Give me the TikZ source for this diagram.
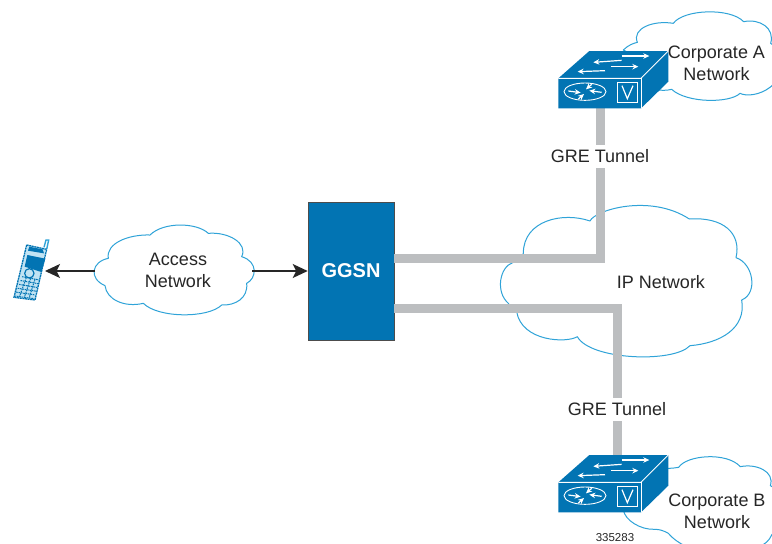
\documentclass[tikz,border=0pt]{standalone}
\usepackage{fontspec}
\setmainfont{Liberation Sans}
\usetikzlibrary{arrows.meta}
\definecolor{ciscoblue}{HTML}{0274B3}
\definecolor{cloudblue}{HTML}{2FA3D8}
\definecolor{tunnelgray}{HTML}{BCBEC0}
\definecolor{inkgray}{HTML}{262626}
\tikzset{
  x=1pt,y=-1pt,
  cloudline/.style={draw=cloudblue,line width=1pt,fill=white,line join=round},
  tunnel/.style={draw=tunnelgray,line width=9pt,line join=miter},
  tunnellabel/.style={fill=white,text=inkgray,font=\fontsize{18}{22}\selectfont,inner xsep=2pt,inner ysep=0pt,minimum height=23pt},
  cloudtext/.style={text=inkgray,font=\fontsize{18}{22}\selectfont,align=center,inner sep=0pt},
  dataarrow/.style={draw=inkgray,line width=1.4pt,-{Stealth[length=15pt,width=14pt,inset=3.5pt]}},
  ggsnbox/.style={fill=ciscoblue,draw=black!70,line width=0.6pt,text=white,font=\fontsize{20}{24}\selectfont\bfseries,minimum width=86pt,minimum height=138pt,inner sep=0pt},
  swline/.style={draw=white,line width=0.9pt},
  swarrow/.style={draw=white,line width=1.2pt,-{Stealth[length=6pt,width=5.5pt]}},
  swicon/.pic={
    \fill[ciscoblue] (25,100) -- (118,18) -- (355,18) -- (355,110) -- (273,190) -- (25,190) -- cycle;
    \draw[swline] (25,100) -- (273,100) -- (355,18);
    \draw[swline] (273,100) -- (273,190);
    \draw[swarrow] (215,46) -- (130,52);
    \draw[swarrow] (215,33) -- (298,33);
    \draw[swarrow] (165,77) -- (83,80);
    \draw[swarrow] (183,65) -- (265,65);
    \draw[swline] (105,140) ellipse [x radius=63,y radius=26];
    \draw[swarrow] (55,138) -- (92,143);
    \draw[swarrow] (155,142) -- (118,137);
    \draw[swarrow] (85,162) -- (102,147);
    \draw[swarrow] (125,118) -- (108,133);
    \draw[swline] (203,112) rectangle (262,172);
    \draw[draw=white,line width=1.2pt,line join=miter] (216,122) -- (232,161) -- (249,122);
  }
}
\begin{document}
\begin{tikzpicture}
\useasboundingbox (0,0) rectangle (772,544);
\fill[white] (0,0) rectangle (772,544);
\begin{scope}
\clip (0,0) rectangle (772,544);

% access cloud
\begin{scope}[shift={(85,215)},scale=1/3]
\draw[cloudline] (70,130) .. controls (62,85) and (130,58) .. (195,60)
  .. controls (235,20) and (335,22) .. (370,55)
  .. controls (430,50) and (490,85) .. (470,125)
  .. controls (520,140) and (515,190) .. (485,205)
  .. controls (490,250) and (450,272) .. (410,270)
  .. controls (370,310) and (220,310) .. (175,265)
  .. controls (120,278) and (65,255) .. (60,212)
  .. controls (10,190) and (20,140) .. (70,130) -- cycle;
\end{scope}

% IP cloud
\begin{scope}[shift={(490,195)},scale=1/3]
\draw[cloudline] (300,78) .. controls (315,45) and (480,-5) .. (598,72)
  .. controls (700,65) and (755,115) .. (738,188)
  .. controls (790,205) and (805,295) .. (755,315)
  .. controls (770,400) and (690,445) .. (600,452)
  .. controls (550,505) and (300,495) .. (262,425)
  .. controls (230,445) and (95,440) .. (80,350)
  .. controls (70,345) and (60,335) .. (55,325)
  .. controls (15,290) and (30,215) .. (68,203)
  .. controls (85,195) and (95,190) .. (100,175)
  .. controls (100,75) and (220,50) .. (300,78) -- cycle;
\end{scope}

% corporate A cloud
\begin{scope}[shift={(540,0)},scale=1/3]
\draw[cloudline] (250,150) .. controls (265,135) and (280,130) .. (292,127)
  .. controls (275,85) and (340,60) .. (400,70)
  .. controls (430,28) and (570,22) .. (611,65)
  .. controls (660,55) and (705,85) .. (692,130)
  .. controls (725,140) and (725,240) .. (690,262)
  .. controls (660,285) and (620,290) .. (600,280)
  .. controls (570,310) and (440,310) .. (395,268)
  .. controls (380,272) and (360,272) .. (345,268) -- (345,200) -- cycle;
\end{scope}

% corporate B cloud
\begin{scope}[shift={(540,440)},scale=1/3]
\draw[cloudline] (380,85) .. controls (395,85) and (405,84) .. (416,82)
  .. controls (440,45) and (560,35) .. (601,80)
  .. controls (650,70) and (705,95) .. (691,137)
  .. controls (725,150) and (725,250) .. (695,285)
  .. controls (680,320) and (640,330) .. (600,325)
  .. controls (560,350) and (440,345) .. (385,280)
  .. controls (370,272) and (360,268) .. (345,268)
  .. controls (300,270) and (255,240) .. (250,210) -- (330,150) -- cycle;
\end{scope}
\end{scope}

% GGSN
\node[ggsnbox] (ggsn) at (351,271) {GGSN};

% named connector ends
\coordinate (phoneport) at (45,271);
\coordinate (accessL) at (95,271);
\coordinate (accessR) at (252,271);
\coordinate (gateA) at (600,108);
\coordinate (gateB) at (617,456);
\coordinate (ggsnA) at (394,258.5);
\coordinate (ggsnB) at (394,308);

% tunnels
\draw[tunnel] (ggsnA) -| (gateA);
\draw[tunnel] (ggsnB) -| (gateB);
\node[tunnellabel] (greA) at (600,156.5) {GRE Tunnel};
\node[tunnellabel] (greB) at (617,409) {GRE Tunnel};

% arrows
\draw[dataarrow] (accessL) -- (phoneport);
\draw[dataarrow] (accessR) -- (ggsn.west);

% texts
\node[cloudtext] (access) at (178,270) {Access\\Network};
\node[cloudtext] (ip) at (661,282) {IP Network};
\node[cloudtext] (corpA) at (716.5,63) {Corporate A\\Network};
\node[cloudtext] (corpB) at (717,511) {Corporate B\\Network};
\node[text=inkgray,font=\fontsize{11.5}{13}\selectfont,inner sep=0pt] (fig) at (615,538) {335283};

% switches
\pic[scale=1/3] at (550,45) {swicon};
\pic[scale=1/3] at (550,449) {swicon};

% phone
\begin{scope}[shift={(0,210)},scale=1/3]
\draw[draw=cloudblue,line width=1.4pt] (132,112) -- (138,90) -- (146,90) -- (140,118);
\fill[cloudblue!30] (80,105) -- (140,118) -- (105,270) -- (42,262) -- cycle;
\draw[draw=ciscoblue,line width=1.3pt,dash pattern=on 2pt off 0.6pt] (80,105) -- (140,118) -- (105,270) -- (42,262) -- cycle;
\fill[ciscoblue] (88,110) -- (128,118) -- (132,130) -- (84,122) -- cycle;
\fill[ciscoblue] (82,135) -- (136,146) -- (124,186) -- (74,170) -- cycle;
\draw[draw=ciscoblue,line width=1.2pt] (88,190) circle (14);
\foreach \t in {0,0.2,0.4,0.6,0.8,1}
  \draw[draw=ciscoblue,line width=1pt,dash pattern=on 1.6pt off 0.8pt]
    ({66-22*\t},{200+58*\t}) -- ({118-16*\t},{210+56*\t});
\foreach \t in {0.25,0.5,0.75}
  \draw[draw=ciscoblue,line width=1pt,dash pattern=on 1.6pt off 0.8pt]
    ({66+52*\t},{200+10*\t}) -- ({44+58*\t},{258+8*\t});
\end{scope}
\end{tikzpicture}
\end{document}
